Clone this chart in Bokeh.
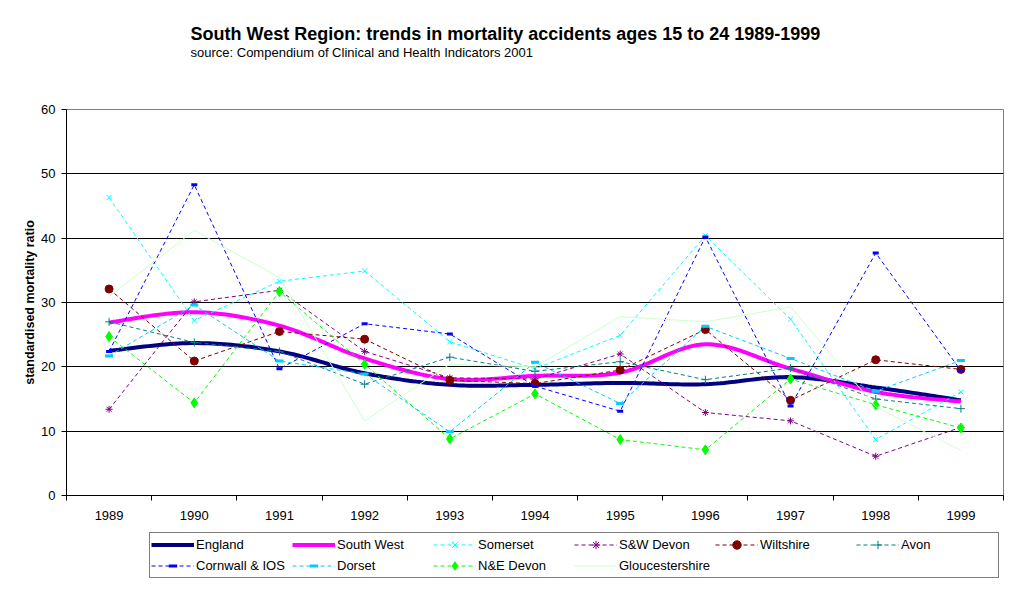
import numpy as np
from bokeh.plotting import figure
from bokeh.layouts import column
from bokeh.models import Range1d, FixedTicker, Label, Legend, LegendItem
from bokeh.embed import file_html
from bokeh.resources import INLINE

# ---- data: standardised mortality ratio, accidents, ages 15-24 ----
years = ["1989", "1990", "1991", "1992", "1993", "1994", "1995", "1996", "1997", "1998", "1999"]
y_ticks = [0, 10, 20, 30, 40, 50, 60]

england         = [22.5, 23.7, 22.4, 19.0, 17.2, 17.2, 17.5, 17.3, 18.4, 16.8, 14.8]
south_west      = [26.9, 28.5, 26.4, 21.3, 18.1, 18.6, 19.1, 23.5, 19.7, 16.1, 14.6]
somerset        = [46.3, 27.2, 33.3, 34.9, 23.9, 19.7, 24.9, 40.4, 27.4, 8.7, 16.1]
sw_devon        = [13.4, 30.1, 31.9, 22.4, 18.3, 18.1, 22.0, 12.9, 11.6, 6.1, 10.6]
wiltshire       = [32.1, 20.9, 25.5, 24.3, 17.9, 17.4, 19.5, 25.8, 14.8, 21.1, 19.6]
avon            = [27.0, 23.8, 22.4, 17.3, 21.5, 19.3, 20.8, 18.0, 19.8, 15.0, 13.5]
cornwall        = [22.4, 48.3, 19.7, 26.7, 25.1, 17.0, 13.1, 40.2, 13.9, 37.7, 19.4]
dorset          = [21.7, 29.6, 20.9, 18.9, 9.9, 20.7, 14.3, 26.3, 21.3, 16.2, 21.0]
ne_devon        = [24.7, 14.4, 31.7, 20.4, 8.8, 15.8, 8.7, 7.1, 18.1, 14.1, 10.5]
gloucestershire = [30.9, 41.2, 33.9, 11.6, 20.4, 20.0, 27.8, 27.0, 29.3, 13.8, 7.0]

TITLE = "South West Region:  trends in mortality accidents ages 15 to 24 1989-1999"
SUBTITLE = "source: Compendium of Clinical and Health Indicators  2001"

FONT = "Liberation Sans"
W = 1020
HEAD_H, MAIN_H, LEG_H = 100, 430, 61
LEFT, RIGHT = 66, 17          # plot-area margins shared by every row of the column

# series styling: (name, values, colour, marker, marker size, marker line width)
smooth_series = [("England", england, "#000080"), ("South West", south_west, "#FF00FF")]
marked_series = [
    ("Somerset", somerset, "#00FFFF", "x", 7, 1),
    ("S&W Devon", sw_devon, "#800080", "asterisk", 7, 1),
    ("Wiltshire", wiltshire, "#800000", "circle", 8, 1),
    ("Avon", avon, "#008080", "cross", 8, 1),
    ("Cornwall & IOS", cornwall, "#0000FF", "dash", 6, 3),
    ("Dorset", dorset, "#00CCFF", "dash", 8, 3),
    ("N&E Devon", ne_devon, "#00FF00", "diamond", 10, 1),
]
plain_series = [("Gloucestershire", gloucestershire, "#CCFFCC")]

xs = list(range(len(years)))


def smooth(x, y, n=24):
    """Catmull-Rom (Bezier) smoothing through every point, like a smoothed line chart."""
    pts = np.column_stack([x, y]).astype(float)
    ext = np.vstack([pts[0], pts, pts[-1]])
    out = [pts[0]]
    t = np.linspace(0, 1, n)[1:, None]
    for i in range(1, len(ext) - 2):
        p0, p1, p2, p3 = ext[i - 1], ext[i], ext[i + 1], ext[i + 2]
        c1 = p1 + (p2 - p0) / 6.0
        c2 = p2 - (p3 - p1) / 6.0
        seg = ((1 - t) ** 3) * p1 + 3 * ((1 - t) ** 2) * t * c1 + 3 * (1 - t) * t ** 2 * c2 + t ** 3 * p2
        out.extend(seg)
    out = np.array(out)
    return out[:, 0], out[:, 1]


def strip(height, y_range):
    """Axis-less row whose frame lines up with the chart's plot area (page pixels on x)."""
    f = figure(width=W, height=height, output_backend="svg", toolbar_location=None,
               x_range=Range1d(LEFT, W - RIGHT), y_range=y_range,
               x_axis_location=None, y_axis_location=None,
               min_border_left=LEFT, min_border_right=RIGHT,
               min_border_top=0, min_border_bottom=0)
    f.grid.visible = False
    f.outline_line_color = None
    f.background_fill_color = "white"
    f.border_fill_color = "white"
    return f


# ---------------- heading ----------------
head = strip(HEAD_H, Range1d(0, HEAD_H))
head.add_layout(Label(x=190, y=HEAD_H - 33, text=TITLE, text_font=FONT,
                      text_font_size="18px", text_font_style="bold",
                      text_baseline="middle", text_align="left", text_color="black"))
head.add_layout(Label(x=190, y=HEAD_H - 52, text=SUBTITLE, text_font=FONT,
                      text_font_size="13px", text_baseline="middle",
                      text_align="left", text_color="black"))

# ---------------- chart ----------------
p = figure(width=W, height=MAIN_H, output_backend="svg", toolbar_location=None,
           x_range=Range1d(-0.5, len(years) - 0.5), y_range=Range1d(y_ticks[0], y_ticks[-1]),
           min_border_left=LEFT, min_border_right=RIGHT, min_border_top=9, min_border_bottom=35)
p.background_fill_color = "white"
p.border_fill_color = "white"
p.outline_line_color = "#808080"
p.outline_line_width = 1

# x axis: year labels at category centres, tick marks between categories
p.xaxis.ticker = FixedTicker(ticks=xs, minor_ticks=[i - 0.5 for i in range(len(years) + 1)])
p.xaxis.major_label_overrides = {i: yr for i, yr in enumerate(years)}
p.xaxis.major_tick_out = 0
p.xaxis.major_tick_in = 0
p.xaxis.minor_tick_out = 5
p.xaxis.minor_tick_in = 0
p.xaxis.minor_tick_line_color = "black"
p.xaxis.major_label_standoff = 10
p.xgrid.visible = False

# y axis
p.yaxis.ticker = FixedTicker(ticks=y_ticks)
p.yaxis.major_tick_out = 5
p.yaxis.major_tick_in = 0
p.yaxis.minor_tick_line_color = None
p.yaxis.major_label_standoff = 6
p.yaxis.axis_label = "standardised mortality ratio"
p.yaxis.axis_label_text_font = FONT
p.yaxis.axis_label_text_font_style = "bold"
p.yaxis.axis_label_text_font_size = "12.5px"
p.yaxis.axis_label_text_color = "black"
p.yaxis.axis_label_standoff = 1
p.ygrid.grid_line_color = "black"
p.ygrid.grid_line_width = 1

for ax in (p.xaxis, p.yaxis):
    ax.axis_line_color = "black"
    ax.major_tick_line_color = "black"
    ax.major_label_text_font = FONT
    ax.major_label_text_font_size = "13px"
    ax.major_label_text_color = "black"


def draw_series(fig):
    """Draw every series on fig; return one legend entry per series."""
    entries = []
    for name, vals, color in smooth_series:
        sxv, syv = smooth(xs, vals)
        r = fig.line(sxv, syv, line_color=color, line_width=4)
        entries.append(LegendItem(label=name, renderers=[r]))
    for name, vals, color, marker, size, mlw in marked_series:
        rl = fig.line(xs, vals, line_color=color, line_width=1, line_dash="4 3")
        rm = fig.scatter(xs, vals, marker=marker, size=size, line_color=color,
                         fill_color=color, line_width=mlw)
        entries.append(LegendItem(label=name, renderers=[rl, rm]))
    for name, vals, color in plain_series:
        r = fig.line(xs, vals, line_color=color, line_width=1)
        entries.append(LegendItem(label=name, renderers=[r]))
    return entries


draw_series(p)

# ---------------- legend strip ----------------
# The strip repeats the series (its y range keeps them out of view) so the
# legend has real glyphs to sample.
leg = strip(LEG_H, Range1d(1000, 1000 + LEG_H))
items = draw_series(leg)

legend = Legend(items=items, orientation="horizontal", ncols=6,
                location=(149 - LEFT, 13),
                glyph_width=43, glyph_height=21, label_height=21, label_width=96,
                label_standoff=2, spacing=0, padding=1, margin=0,
                border_line_color="black", border_line_width=1,
                background_fill_color="white", background_fill_alpha=1,
                label_text_font=FONT, label_text_font_size="13px",
                label_text_color="black")
leg.add_layout(legend)

page = column(head, p, leg, spacing=0)
open("out.html", "w").write(file_html(page, INLINE))
